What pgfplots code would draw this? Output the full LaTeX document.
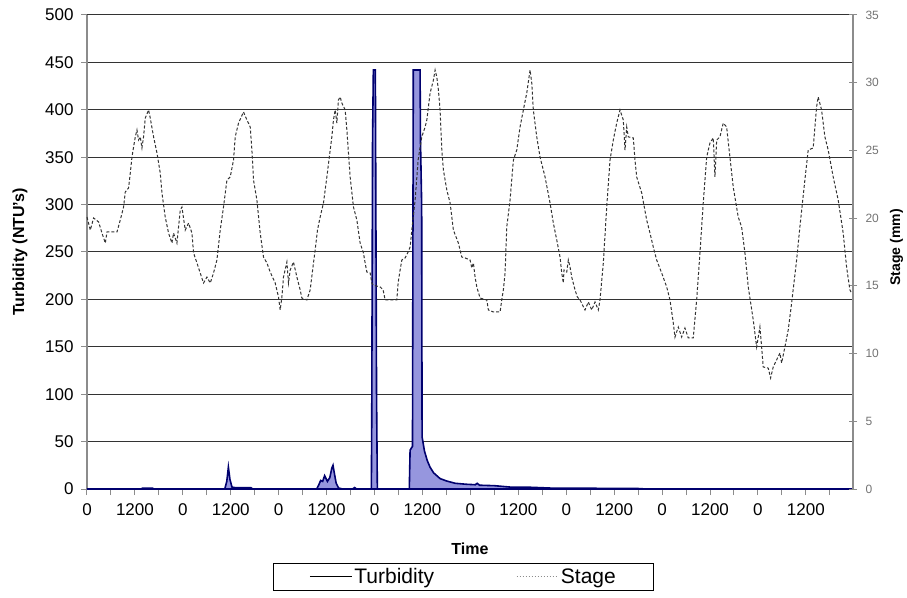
\documentclass[border=0pt]{standalone}
\usepackage{fontspec}
\setmainfont{Liberation Sans}
\usepackage{pgfplots}
\pgfplotsset{compat=1.18}
\definecolor{navy}{RGB}{0,0,110}
\definecolor{turbfill}{RGB}{150,150,222}
\definecolor{axgray}{RGB}{140,140,140}

\begin{document}
\begin{tikzpicture}
% fixed page size (907 x 597)
\path (-87pt,-108pt) rectangle (820pt,489pt);

\begin{axis}[
    scale only axis,
    width=766pt, height=474pt,
    xmin=0, xmax=191.8,
    ymin=0, ymax=500,
    axis x line*=bottom,
    axis y line*=left,
    axis line style={axgray, line width=1.5pt},
    xtick={0,12,...,180},
    xticklabels={0,1200,0,1200,0,1200,0,1200,0,1200,0,1200,0,1200,0,1200},
    minor xtick={6,18,...,186},
    ytick={0,50,...,500},
    tick align=outside,
    major tick length=6pt, minor tick length=6pt,
    tick style={axgray, line width=1pt},
    ymajorgrids,
    grid style={black!80, line width=1pt},
    /pgf/number format/assume math mode=true,
    ticklabel style={font=\fontsize{17}{20}\selectfont},
    xticklabel style={yshift=-5pt},
    yticklabel style={xshift=-4pt},
    xlabel={Time},
    ylabel={Turbidity (NTU's)},
    every axis x label/.style={at={(axis description cs:0.5,-0.127)}, anchor=center,
        font=\fontsize{16}{19}\selectfont\bfseries},
    every axis y label/.style={at={(axis description cs:-0.0875,0.5)}, rotate=90, anchor=center,
        font=\fontsize{16}{19}\selectfont\bfseries},
    clip=false,
]
\addplot[draw=navy, line width=1.6pt, fill=turbfill] coordinates {
    (0,0)(13.5,0)(14.0,1)(16.3,1)(16.8,0)
    (34.5,0)(35.0,8)(35.4,23)(35.8,10)(36.3,2)(37.0,1.5)(41.0,1.5)(41.5,0)
    (57.5,0)(58.0,4)(58.5,9)(59.0,8)(59.5,14)(60.2,8)(60.8,12)(61.3,22)(61.6,25)(62.0,15)(62.4,6)(63.0,1)(64.0,0)
    (66.5,0)(67.0,1.5)(67.5,0)
    (71.2,0)(71.3,75)(71.5,368)(71.7,442)(72.2,442)(72.3,330)(72.5,100)(72.7,0)
    (80.7,0)(80.9,41)(81.5,45)(81.7,442)(83.4,442)(83.5,368)(83.8,300)(83.9,55)
    (84.5,40)(85.2,30)(85.9,23)(86.8,17)(88.4,11)(90.0,8.5)(92.2,6)(95.0,5)
    (97.2,4.5)(97.7,6)(98.3,4)(102,3.5)(106,2)(110,2)(116,1)(125,0.8)(138,0.5)(140,0)
    (191.8,0)
} \closedcycle;
\end{axis}

\begin{axis}[
    scale only axis,
    width=766pt, height=474pt,
    xmin=0, xmax=191.8,
    ymin=0, ymax=35,
    axis y line*=right,
    axis x line=none,
    axis line style={axgray, line width=1.5pt},
    ytick={0,5,...,35},
    tick align=center,
    major tick length=8pt,
    tick style={axgray, line width=1pt},
    /pgf/number format/assume math mode=true,
    yticklabel style={font=\fontsize{12}{14}\selectfont, text=black!55, xshift=5pt},
    ylabel={Stage (mm)},
    every axis y label/.style={at={(axis description cs:1.0568,0.51)}, rotate=90, anchor=center,
        font=\fontsize{14}{17}\selectfont\bfseries},
    legend columns=2,
    legend style={at={(axis description cs:0.4915,-0.156)}, anchor=north,
        draw=black, line width=0.8pt, font=\fontsize{21}{24}\selectfont,
        inner xsep=36pt, inner ysep=3pt,
        /tikz/every even column/.append style={column sep=80pt}},
    legend image code/.code={\draw[#1] (0pt,0pt) -- (42pt,0pt);},
    clip=false,
]
\addlegendimage{black, line width=1.2pt}
\addlegendentry{Turbidity}
\addlegendimage{black!45, line width=0.8pt, dash pattern=on 1.5pt off 1.5pt}
\addlegendentry{Stage}
\addplot[forget plot, black!80, line width=1pt, dash pattern=on 3pt off 2pt] coordinates {
    (0.00,20.08)(0.83,19.12)(1.65,20.01)(2.90,19.72)(3.75,18.90)(4.58,18.16)(5.01,18.98)
    (7.51,18.98)(8.33,19.86)(9.16,20.82)(9.58,21.93)(10.41,22.23)(10.84,23.33)(11.26,24.51)
    (11.66,25.25)(12.09,26.00)(12.51,26.51)(12.91,25.77)(13.34,26.00)(13.76,25.18)(14.16,26.00)
    (14.59,27.39)(15.42,27.99)(15.84,27.39)(16.67,26.00)(17.52,24.81)(18.34,23.33)(18.77,21.86)
    (19.59,20.08)(20.42,18.90)(21.27,18.16)(21.67,18.90)(22.52,18.16)(23.35,20.60)(23.77,20.82)
    (24.60,19.12)(25.43,19.64)(26.28,18.90)(26.68,17.43)(27.53,16.69)(28.35,15.95)(29.18,15.21)
    (30.03,15.65)(30.86,15.21)(31.68,15.95)(32.53,16.91)(33.36,19.12)(34.18,20.82)(35.04,22.82)
    (35.86,23.04)(36.69,24.29)(37.11,26.00)(37.94,27.02)(39.19,27.84)(40.04,27.25)(40.87,26.73)
    (41.29,25.03)(41.69,22.82)(42.54,21.34)(43.37,18.90)(44.19,17.13)(45.05,16.69)(45.87,16.02)
    (47.12,15.21)(47.95,14.18)(48.37,13.22)(48.80,14.18)(49.20,15.65)(50.05,16.76)(50.45,15.21)
    (50.88,16.17)(51.70,16.76)(52.55,15.65)(53.38,14.70)(53.80,14.10)(55.06,13.96)(55.88,14.70)
    (56.71,16.69)(57.13,17.65)(57.71,19.12)(58.38,20.08)(59.21,21.12)(60.06,23.04)(60.89,25.03)
    (61.31,26.00)(61.71,27.25)(62.14,27.99)(62.56,27.02)(62.96,28.73)(63.39,28.95)(63.81,28.50)
    (64.64,27.99)(65.07,26.51)(65.47,24.81)(65.89,23.04)(66.72,20.82)(67.57,19.86)(68.39,18.16)
    (69.22,17.43)(69.64,16.69)(70.07,16.02)(70.90,15.95)(71.32,15.21)(71.65,15.06)(73.40,14.92)
    (74.15,14.70)(74.65,13.96)(77.58,13.96)(77.90,15.21)(78.40,16.17)(78.83,16.91)(79.65,17.06)
    (80.41,17.50)(80.91,17.87)(81.33,19.12)(82.16,21.34)(82.91,24.29)(83.41,25.25)(83.83,26.00)
    (84.66,26.73)(85.09,27.25)(85.91,29.24)(86.74,30.20)(87.16,30.94)(87.59,30.42)(87.99,29.46)
    (88.41,27.99)(88.84,25.03)(89.24,23.55)(90.09,22.08)(90.92,21.12)(91.74,19.12)(92.99,18.16)
    (93.84,17.13)(94.67,17.06)(95.92,16.91)(96.35,16.32)(96.75,16.69)(97.17,15.65)(97.60,14.92)
    (98.42,14.10)(100.10,13.96)(100.50,13.22)(101.75,13.07)(103.43,13.07)(103.85,13.96)(104.25,14.70)
    (104.68,15.95)(105.11,19.35)(105.93,21.34)(106.76,24.29)(107.61,25.03)(108.43,26.73)(109.26,27.99)
    (110.11,29.24)(110.94,30.94)(111.36,29.98)(111.76,27.99)(112.61,26.00)(113.44,24.51)(114.69,23.04)
    (115.94,21.12)(116.77,19.64)(117.62,18.39)(118.44,17.13)(118.87,15.95)(119.27,15.21)(119.44,16.17)
    (120.12,16.02)(120.52,16.91)(120.95,16.39)(121.37,15.65)(122.20,14.70)(122.77,14.18)(123.45,13.96)
    (124.70,13.22)(125.53,13.81)(126.38,13.22)(127.20,13.81)(128.03,13.22)(128.45,13.96)(129.28,16.69)
    (130.13,20.82)(130.96,24.29)(131.78,25.77)(132.63,27.02)(133.46,27.99)(134.28,27.25)(134.71,25.03)
    (135.14,26.73)(135.54,26.00)(136.79,25.92)(137.21,24.29)(137.64,23.04)(138.89,21.86)(140.14,19.86)
    (140.96,18.90)(141.79,17.87)(142.64,16.91)(143.89,15.95)(145.15,14.92)(145.97,13.96)(146.80,12.26)
    (147.22,11.22)(148.05,11.96)(148.90,11.22)(149.72,11.89)(150.55,11.15)(151.80,11.15)(152.65,13.96)
    (153.48,17.43)(154.30,21.12)(155.16,24.51)(155.98,25.55)(156.81,25.92)(157.23,23.04)(157.66,25.77)
    (158.48,26.00)(159.31,27.02)(160.16,26.73)(160.98,24.51)(161.81,22.30)(163.06,20.08)(163.91,19.35)
    (164.74,17.43)(165.57,14.92)(166.82,12.48)(167.67,10.49)(168.49,11.96)(168.92,10.49)(169.32,9.01)
    (170.57,8.93)(171.17,8.20)(171.82,9.01)(172.67,9.53)(173.50,10.04)(173.92,9.30)(174.75,10.49)
    (175.58,11.74)(176.43,13.73)(177.68,16.91)(178.50,19.35)(179.75,22.82)(180.58,25.03)(181.83,25.18)
    (182.68,28.21)(183.08,28.95)(183.93,27.99)(184.76,26.00)(185.59,25.03)(186.84,23.04)(188.09,21.34)
    (189.34,18.90)(190.19,16.39)(191.02,14.70)(191.44,14.47)
};
\end{axis}
\end{tikzpicture}
\end{document}
